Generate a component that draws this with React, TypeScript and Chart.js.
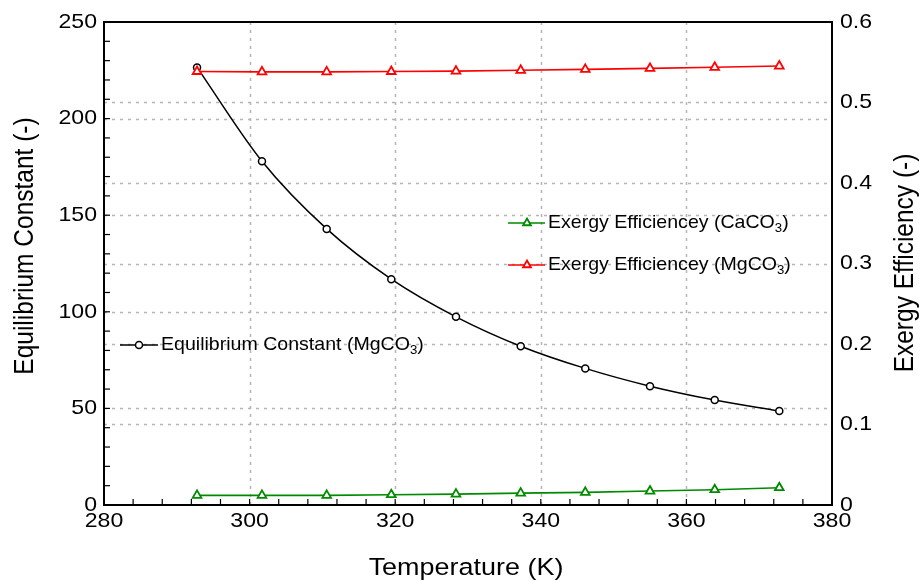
import React, { useEffect, useRef } from "react";
import { Chart, registerables } from "chart.js";

Chart.register(...registerables);

// ---- data ----
const temperatures = [292.78, 301.7, 310.59, 319.46, 328.35, 337.24, 346.11, 355.0, 363.89, 372.76];
const equilibriumMgCO3 = [226.5, 177.9, 142.9, 116.9, 97.4, 82.2, 70.7, 61.5, 54.3, 48.6];
const exergyMgCO3 = [0.5385, 0.538, 0.538, 0.5385, 0.539, 0.54, 0.5412, 0.5424, 0.5437, 0.5453];
const exergyCaCO3 = [0.012, 0.012, 0.012, 0.0128, 0.0135, 0.0148, 0.0157, 0.0173, 0.019, 0.0215];

const xTicks = [280, 300, 320, 340, 360, 380];
const leftTicks = [0, 50, 100, 150, 200, 250];
const rightTicks = [0, 0.1, 0.2, 0.3, 0.4, 0.5, 0.6];
const rightTickLabels = ["0", "0.1", "0.2", "0.3", "0.4", "0.5", "0.6"];

const xTitle = "Temperature (K)";
const leftTitle = "Equilibrium Constant (-)";
const rightTitle = "Exergy Efficiency (-)";

const FONT = '"Liberation Sans", Arial, Helvetica, sans-serif';
const GREEN = "#008a00";
const RED = "#ff0000";
const STRETCH = 1.1;

function drawTriangle(ctx: CanvasRenderingContext2D, x: number, y: number, r: number) {
  ctx.beginPath();
  for (let i = 0; i < 3; i++) {
    const a = (i * 2 * Math.PI) / 3;
    const px = x + Math.sin(a) * r;
    const py = y - Math.cos(a) * r;
    if (i === 0) ctx.moveTo(px, py);
    else ctx.lineTo(px, py);
  }
  ctx.closePath();
  ctx.fillStyle = "#fff";
  ctx.fill();
  ctx.stroke();
}

// text with horizontal stretch (reference glyphs are slightly wide)
function text(
  ctx: CanvasRenderingContext2D,
  s: string,
  x: number,
  y: number,
  size: number,
  align: CanvasTextAlign,
  rotate = false
) {
  ctx.save();
  ctx.font = `${size}px ${FONT}`;
  ctx.fillStyle = "#000";
  ctx.textAlign = align;
  ctx.textBaseline = "middle";
  ctx.translate(x, y);
  if (rotate) {
    ctx.rotate(-Math.PI / 2);
    ctx.scale(1, STRETCH);
  } else {
    ctx.scale(STRETCH, 1);
  }
  ctx.fillText(s, 0, 0);
  ctx.restore();
}

function drawSubText(ctx: CanvasRenderingContext2D, x: number, y: number, main: string, sub: string, tail: string, size: number) {
  ctx.save();
  ctx.translate(x, y);
  ctx.scale(STRETCH, 1);
  ctx.fillStyle = "#000";
  ctx.textBaseline = "middle";
  ctx.textAlign = "left";
  ctx.font = `${size}px ${FONT}`;
  ctx.fillText(main, 0, 0);
  let cx = ctx.measureText(main).width;
  ctx.font = `${Math.round(size * 0.7)}px ${FONT}`;
  ctx.fillText(sub, cx, size * 0.3);
  cx += ctx.measureText(sub).width;
  ctx.font = `${size}px ${FONT}`;
  ctx.fillText(tail, cx, 0);
  ctx.restore();
}

const decor = {
  id: "decor",
  beforeDatasetsDraw(chart: any) {
    const { ctx, chartArea: a, scales } = chart;
    ctx.save();
    ctx.strokeStyle = "#b5b5b5";
    ctx.lineWidth = 1.5;
    ctx.setLineDash([3, 5]);
    const line = (x1: number, y1: number, x2: number, y2: number) => {
      ctx.beginPath();
      ctx.moveTo(x1, y1);
      ctx.lineTo(x2, y2);
      ctx.stroke();
    };
    xTicks.slice(1, -1).forEach((v) => {
      const px = Math.round(scales.x.getPixelForValue(v)) + 0.5;
      line(px, a.top, px, a.bottom);
    });
    leftTicks.slice(1, -1).forEach((v) => {
      const py = Math.round(scales.y.getPixelForValue(v)) + 0.5;
      line(a.left, py, a.right, py);
    });
    rightTicks.slice(1, -1).forEach((v) => {
      const py = Math.round(scales.y1.getPixelForValue(v)) + 0.5;
      line(a.left, py, a.right, py);
    });
    ctx.restore();
  },
  afterDatasetsDraw(chart: any) {
    const { ctx, chartArea: a, scales } = chart;
    ctx.save();
    // ticks pointing inward
    ctx.strokeStyle = "#000";
    ctx.lineWidth = 1.2;
    for (let v = 0; v <= 250; v += 10) {
      const py = scales.y.getPixelForValue(v);
      ctx.beginPath();
      ctx.moveTo(a.left, py);
      ctx.lineTo(a.left + 6, py);
      ctx.stroke();
    }
    for (let v = 280; v <= 380; v += 4) {
      const px = scales.x.getPixelForValue(v);
      ctx.beginPath();
      ctx.moveTo(px, a.bottom);
      ctx.lineTo(px, a.bottom - 6);
      ctx.stroke();
    }
    // frame
    ctx.lineWidth = 2;
    ctx.strokeRect(a.left, a.top, a.right - a.left, a.bottom - a.top);

    // tick labels
    const tsz = 21;
    xTicks.forEach((v) => text(ctx, String(v), scales.x.getPixelForValue(v), a.bottom + 16, tsz, "center"));
    leftTicks.forEach((v) => text(ctx, String(v), a.left - 7, scales.y.getPixelForValue(v), tsz, "right"));
    rightTicks.forEach((v, i) => text(ctx, rightTickLabels[i], a.right + 8, scales.y1.getPixelForValue(v), tsz, "left"));

    // legends
    const lsize = 17.8;
    ctx.lineWidth = 1.5;
    ctx.strokeStyle = "#000";
    let ly = 345;
    ctx.beginPath();
    ctx.moveTo(120, ly);
    ctx.lineTo(158, ly);
    ctx.stroke();
    ctx.beginPath();
    ctx.arc(139, ly, 3.5, 0, Math.PI * 2);
    ctx.fillStyle = "#fff";
    ctx.fill();
    ctx.stroke();
    drawSubText(ctx, 161, ly, "Equilibrium Constant (MgCO", "3", ")", lsize);

    ly = 223;
    ctx.strokeStyle = GREEN;
    ctx.lineWidth = 1.5;
    ctx.beginPath();
    ctx.moveTo(508, ly);
    ctx.lineTo(545, ly);
    ctx.stroke();
    ctx.lineWidth = 1.8;
    drawTriangle(ctx, 527, ly, 4.5);
    drawSubText(ctx, 548, ly, "Exergy Efficiencey (CaCO", "3", ")", lsize);

    ly = 265;
    ctx.strokeStyle = RED;
    ctx.lineWidth = 1.5;
    ctx.beginPath();
    ctx.moveTo(508, ly);
    ctx.lineTo(545, ly);
    ctx.stroke();
    ctx.lineWidth = 1.8;
    drawTriangle(ctx, 527, ly, 4.5);
    drawSubText(ctx, 548, ly, "Exergy Efficiencey (MgCO", "3", ")", lsize);

    // axis titles
    const ttl = 24.5;
    text(ctx, xTitle, (a.left + a.right) / 2 - 2, 568, ttl, "center");
    text(ctx, leftTitle, 26, 246, ttl, "center", true);
    text(ctx, rightTitle, 906, 263, ttl, "center", true);
    ctx.restore();
  },
};

export default function App() {
  const ref = useRef<HTMLCanvasElement | null>(null);
  useEffect(() => {
    if (!ref.current) return;
    const chart = new Chart(ref.current, {
      type: "line",
      data: {
        datasets: [
          {
            label: "Exergy Efficiencey (MgCO3)",
            data: temperatures.map((t, i) => ({ x: t, y: exergyMgCO3[i] })),
            yAxisID: "y1",
            borderColor: RED,
            borderWidth: 1.6,
            pointStyle: "triangle",
            pointRadius: 5,
            pointBorderWidth: 1.8,
            pointBackgroundColor: "#fff",
            pointBorderColor: RED,
            tension: 0,
            order: 0,
          },
          {
            label: "Exergy Efficiencey (CaCO3)",
            data: temperatures.map((t, i) => ({ x: t, y: exergyCaCO3[i] })),
            yAxisID: "y1",
            borderColor: GREEN,
            borderWidth: 1.6,
            pointStyle: "triangle",
            pointRadius: 5,
            pointBorderWidth: 1.8,
            pointBackgroundColor: "#fff",
            pointBorderColor: GREEN,
            tension: 0,
            order: 1,
          },
          {
            label: "Equilibrium Constant (MgCO3)",
            data: temperatures.map((t, i) => ({ x: t, y: equilibriumMgCO3[i] })),
            yAxisID: "y",
            borderColor: "#000",
            borderWidth: 1.5,
            pointStyle: "circle",
            pointRadius: 3.5,
            pointBorderWidth: 1.5,
            pointBackgroundColor: "#fff",
            pointBorderColor: "#000",
            cubicInterpolationMode: "monotone",
            order: 2,
          },
        ],
      },
      options: {
        responsive: false,
        animation: false,
        devicePixelRatio: 1,
        layout: { padding: { top: 22, left: 0, right: 0, bottom: 0 } },
        plugins: { legend: { display: false }, tooltip: { enabled: false } },
        scales: {
          x: {
            type: "linear",
            min: 280,
            max: 380,
            afterFit: (s: any) => {
              s.height = 77;
            },
            grid: { display: false, drawTicks: false },
            border: { display: false },
            ticks: { display: false },
          },
          y: {
            position: "left",
            min: 0,
            max: 250,
            afterFit: (s: any) => {
              s.width = 104;
            },
            grid: { display: false, drawTicks: false },
            border: { display: false },
            ticks: { display: false },
          },
          y1: {
            position: "right",
            min: 0,
            max: 0.6,
            afterFit: (s: any) => {
              s.width = 90;
            },
            grid: { display: false, drawTicks: false },
            border: { display: false },
            ticks: { display: false },
          },
        },
      },
      plugins: [decor],
    } as any);
    return () => chart.destroy();
  }, []);
  return (
    <div style={{ position: "absolute", left: 0, top: 0, width: 922, height: 582, background: "#fff" }}>
      <canvas ref={ref} width={922} height={582} style={{ display: "block" }} />
    </div>
  );
}
